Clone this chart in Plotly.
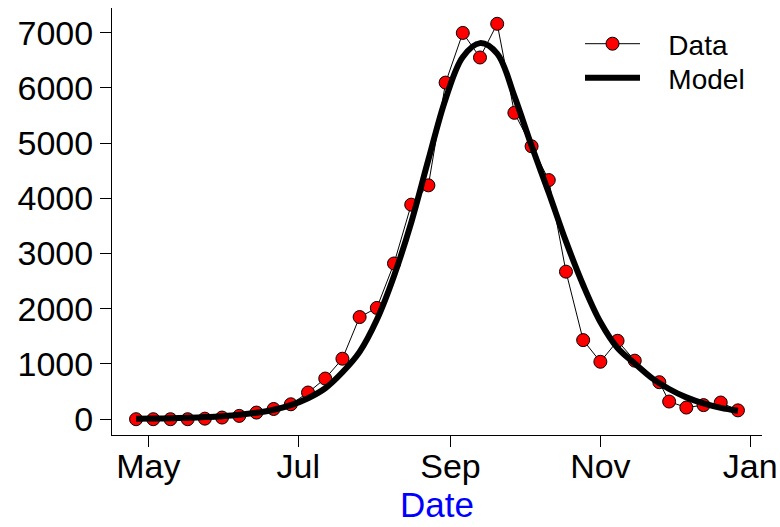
import plotly.graph_objects as go

# ---- data ----
data_dates = ["2020-04-26", "2020-05-03", "2020-05-10", "2020-05-17", "2020-05-24", "2020-05-31",
              "2020-06-07", "2020-06-14", "2020-06-21", "2020-06-28", "2020-07-05", "2020-07-12",
              "2020-07-19", "2020-07-26", "2020-08-02", "2020-08-09", "2020-08-16", "2020-08-23",
              "2020-08-30", "2020-09-06", "2020-09-13", "2020-09-20", "2020-09-27", "2020-10-04",
              "2020-10-11", "2020-10-18", "2020-10-25", "2020-11-01", "2020-11-08", "2020-11-15",
              "2020-11-25", "2020-11-29", "2020-12-06", "2020-12-13", "2020-12-20", "2020-12-27"]
data_values = [0, 0, 0, 0, 10, 30, 60, 120, 185, 270, 483, 736,
               1095, 1850, 2015, 2820, 3885, 4235, 6095, 6995, 6550, 7160, 5548, 4942,
               4330, 2672, 1432, 1040, 1420, 1060, 670, 320, 211, 255, 302, 160]

model_dates = ["2020-04-26", "2020-05-03", "2020-05-10", "2020-05-17", "2020-05-24", "2020-05-31",
               "2020-06-07", "2020-06-14", "2020-06-21", "2020-06-28", "2020-07-05", "2020-07-12",
               "2020-07-19", "2020-07-26", "2020-08-02", "2020-08-09", "2020-08-16", "2020-08-23",
               "2020-08-30", "2020-09-06", "2020-09-13", "2020-09-20", "2020-09-27", "2020-10-04",
               "2020-10-11", "2020-10-18", "2020-10-25", "2020-11-01", "2020-11-08", "2020-11-15",
               "2020-11-22", "2020-11-29", "2020-12-06", "2020-12-13", "2020-12-20", "2020-12-27"]
model_values = [8, 12, 18, 26, 38, 55, 80, 118, 172, 255, 380, 560,
                850, 1220, 1800, 2594, 3560, 4700, 5800, 6560, 6810, 6620, 5850, 4950,
                4100, 3220, 2430, 1760, 1290, 1010, 745, 547, 395, 285, 205, 152]

x_tick_vals = ["2020-05-01", "2020-07-01", "2020-09-01", "2020-11-01", "2021-01-01"]
x_tick_text = ["May", "Jul", "Sep", "Nov", "Jan"]
y_tick_vals = [0, 1000, 2000, 3000, 4000, 5000, 6000, 7000]
x_title = "Date"

FONT = "Liberation Sans, Arial, sans-serif"
NB = "\u00a0\u00a0\u00a0"

fig = go.Figure()
fig.add_trace(go.Scatter(
    x=data_dates, y=data_values, mode="lines+markers", name=NB + "Data",
    line=dict(color="black", width=1),
    marker=dict(color="red", size=13, line=dict(color="black", width=1)),
    legend="legend",
))
fig.add_trace(go.Scatter(
    x=model_dates, y=model_values, mode="lines", name=NB + "Model",
    line=dict(color="black", width=6, shape="spline", smoothing=1),
    legend="legend2",
))

leg_common = dict(xanchor="left", yanchor="middle", bgcolor="rgba(0,0,0,0)",
                  font=dict(size=28, family=FONT, color="black"), itemwidth=55,
                  borderwidth=0)

fig.update_layout(
    width=780, height=527,
    margin=dict(l=112, r=18, t=8, b=92),
    plot_bgcolor="white", paper_bgcolor="white",
    font=dict(family=FONT, color="black", size=34),
    showlegend=True,
    legend=dict(x=0.72, y=0.9157, **leg_common),
    legend2=dict(x=0.72, y=0.836, **leg_common),
    annotations=[dict(text=x_title, xref="paper", yref="paper", x=0.5, y=-0.1616,
                      xanchor="center", yanchor="middle", showarrow=False, borderpad=0,
                      font=dict(size=35, color="blue", family=FONT))],
)
fig.update_xaxes(
    type="date", range=["2020-04-16 04:48", "2021-01-05 19:12"],
    tickvals=x_tick_vals, ticktext=x_tick_text,
    showline=True, linecolor="black", linewidth=1, mirror=False,
    ticks="outside", ticklen=11, tickcolor="black", tickwidth=1,
    showgrid=False, zeroline=False, automargin=False,
    tickfont=dict(size=34, family=FONT),
    ticklabelstandoff=-10,
)
fig.update_yaxes(
    range=[-286, 7446],
    tickvals=y_tick_vals,
    showline=True, linecolor="black", linewidth=1, mirror=False,
    ticks="outside", ticklen=11, tickcolor="black", tickwidth=1,
    showgrid=False, zeroline=False, automargin=False,
    tickfont=dict(size=34, family=FONT),
    ticklabelstandoff=0,
)

fig.write_html("out.html", config={"displayModeBar": False},
               post_script="document.body.style.margin='0';document.body.style.overflow='hidden';")
